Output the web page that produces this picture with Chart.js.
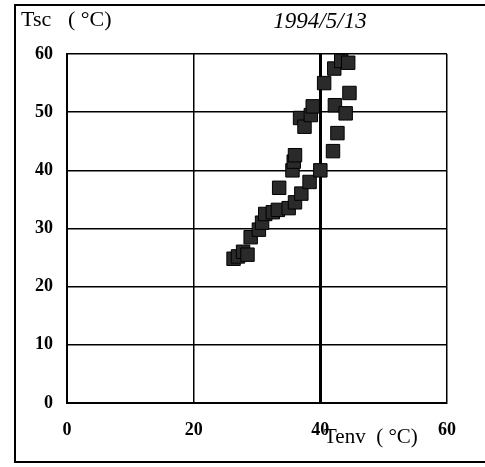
<!DOCTYPE html>
<html>
<head>
<meta charset="utf-8">
<script src="https://cdn.jsdelivr.net/npm/chart.js@4"></script>
<style>
  html, body { margin: 0; padding: 0; background: #fff; }
  #wrap { width: 485px; height: 467px; }
</style>
</head>
<body>
<div id="wrap"><canvas id="sc" width="485" height="467"></canvas></div>
<script>
// Tenv (x) and Tsc (y), 1994/5/13
let tenv = [26.3, 27.0, 27.8, 28.5, 29.0, 30.3, 30.8, 31.3, 32.5, 33.3, 33.5, 35.0, 36.0, 37.0, 38.3, 40.0,
            35.6, 35.8, 36.0, 42.0, 42.7, 36.8, 37.5, 38.5, 38.8, 42.3, 44.0, 44.6, 40.6, 42.2, 43.3, 44.4];
let tsc = [24.8, 25.2, 26.0, 25.5, 28.5, 29.8, 31.0, 32.5, 32.8, 33.2, 37.0, 33.5, 34.5, 36.0, 38.0, 40.0,
           40.0, 41.5, 42.6, 43.3, 46.4, 49.0, 47.5, 49.5, 51.0, 51.2, 49.8, 53.3, 55.0, 57.5, 58.8, 58.5];

let xTicks = [0, 20, 40, 60];
let yTicks = [0, 10, 20, 30, 40, 50, 60];

let points = tenv.map((v, i) => ({ x: v, y: tsc[i] }));

const serif = "'Liberation Serif', 'DejaVu Serif', serif";

// frame + loose labels of the scanned figure
const decor = {
  id: 'decor',
  afterDraw(chart) {
    const c = chart.ctx;
    c.save();
    c.strokeStyle = '#000';
    c.lineWidth = 2;
    c.beginPath();
    c.moveTo(485, 5);
    c.lineTo(15, 5);
    c.lineTo(15, 462);
    c.lineTo(485, 462);
    c.stroke();

    c.fillStyle = '#000';
    c.textBaseline = 'middle';
    c.textAlign = 'left';
    c.font = "22px " + serif;
    c.fillText('Tsc', 21, 20);
    c.fillText('( °C)', 68, 20);
    c.textAlign = 'center';
    c.font = "italic 23px " + serif;
    c.fillText('1994/5/13', 320, 22);
    c.textAlign = 'left';
    c.font = "21px " + serif;
    c.fillText('Tenv  ( °C)', 324, 437);
    c.restore();
  }
};

const ctx = document.getElementById('sc').getContext('2d');
const chart = new Chart(ctx, {
  type: 'scatter',
  data: {
    datasets: [{
      label: 'Tsc',
      data: points,
      pointStyle: 'rect',
      pointRadius: 9.5,
      backgroundColor: '#2a2a2a',
      borderColor: '#000',
      borderWidth: 1
    }]
  },
  options: {
    responsive: false,
    animation: false,
    layout: { padding: { top: 54, right: 38, left: 0, bottom: 0 } },
    plugins: {
      legend: { display: false },
      tooltip: { enabled: false }
    },
    scales: {
      x: {
        type: 'linear',
        min: 0, max: 60,
        afterBuildTicks: (s) => { s.ticks = xTicks.map(v => ({ value: v })); },
        afterFit: (s) => { s.height = 64; },
        border: { color: '#000', width: 2 },
        grid: {
          color: '#000',
          lineWidth: (c) => c.tick && c.tick.value === 40 ? 3 : 1.5,
          drawTicks: false
        },
        ticks: {
          color: '#000',
          padding: 17,
          font: { family: serif, size: 18, weight: 'bold' }
        }
      },
      y: {
        min: 0, max: 60,
        afterBuildTicks: (s) => { s.ticks = yTicks.map(v => ({ value: v })); },
        afterFit: (s) => { s.width = 67; },
        border: { color: '#000', width: 2 },
        grid: { color: '#000', lineWidth: 1.5, drawTicks: false },
        ticks: {
          color: '#000',
          padding: 14,
          font: { family: serif, size: 18, weight: 'bold' }
        }
      }
    }
  },
  plugins: [decor]
});
</script>
</body>
</html>
